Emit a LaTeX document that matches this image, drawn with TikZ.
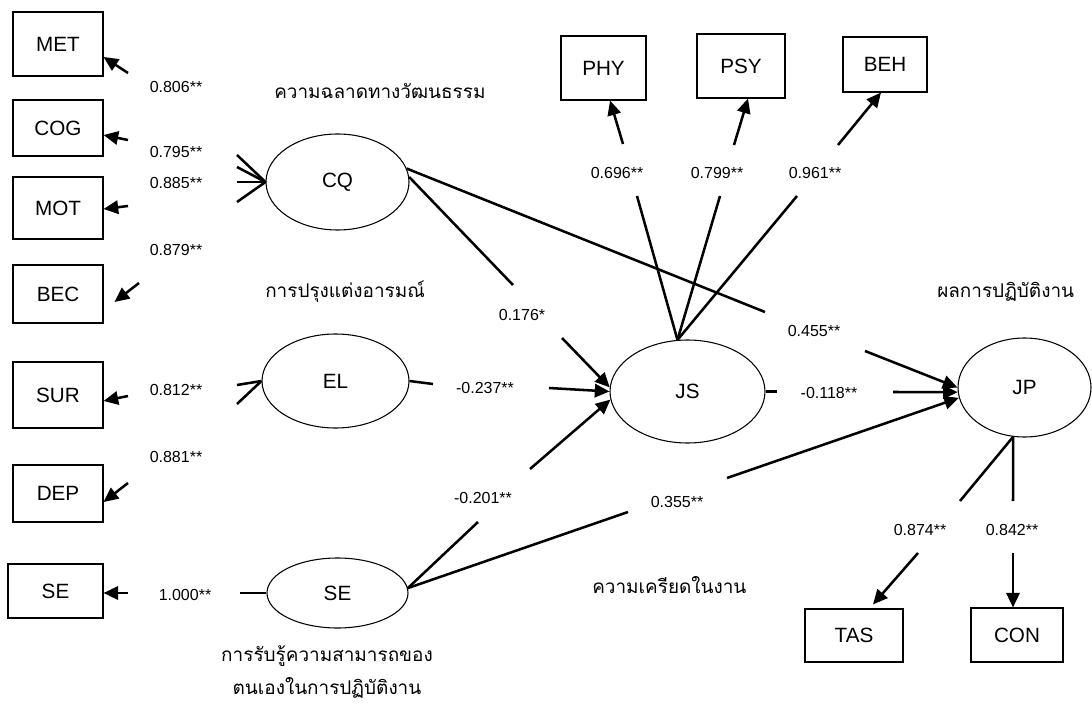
\documentclass[tikz,border=0pt]{standalone}
\usepackage{fontspec}
\setmainfont{Liberation Sans}
\newfontfamily\thaifont[Script=Thai]{Loma}
\usetikzlibrary{arrows.meta,shapes.geometric,calc}
\begin{document}
\begin{tikzpicture}[x=0.75pt,y=-0.75pt,
  ind/.style={draw,line width=0.8pt,inner sep=0pt,font=\fontsize{15.5}{18}\selectfont},
  lat/.style={draw,ellipse,line width=0.8pt,inner sep=0pt,font=\fontsize{15.5}{18}\selectfont},
  con/.style={line width=1.9pt},
  arr/.style={con,-{Triangle[length=11pt,width=10pt]}},
  coef/.style={font=\fontsize{12}{14}\selectfont,inner sep=0pt},
  thai/.style={font=\thaifont\fontsize{14.2}{25}\selectfont,inner sep=0pt,anchor=west}]
\useasboundingbox (0,0) rectangle (1092,706);

% indicator boxes
\node[ind,minimum width=67.5pt,minimum height=48pt] (MET) at (58,44) {MET};
\node[ind,minimum width=67.5pt,minimum height=42pt] (COG) at (58,128) {COG};
\node[ind,minimum width=67.5pt,minimum height=46.5pt] (MOT) at (58,208) {MOT};
\node[ind,minimum width=67.5pt,minimum height=43.5pt] (BEC) at (58,294) {BEC};
\node[ind,minimum width=67.5pt,minimum height=49.5pt] (SUR) at (58,395) {SUR};
\node[ind,minimum width=67.5pt,minimum height=42.75pt] (DEP) at (58,493.5) {DEP};
\node[ind,minimum width=71.25pt,minimum height=40.5pt] (SEi) at (55.5,591) {SE};
\node[ind,minimum width=63.75pt,minimum height=48pt] (PHY) at (603.5,68) {PHY};
\node[ind,minimum width=66pt,minimum height=48pt] (PSY) at (741,66) {PSY};
\node[ind,minimum width=63pt,minimum height=41.25pt] (BEH) at (885,64.5) {BEH};
\node[ind,minimum width=73.5pt,minimum height=39.75pt] (TAS) at (854,635.5) {TAS};
\node[ind,minimum width=69pt,minimum height=40.5pt] (CON) at (1017,635) {CON};

% latent ellipses
\node[lat,minimum width=107.25pt,minimum height=72pt] (CQ) at (337.5,182) {CQ};
\node[lat,minimum width=110.25pt,minimum height=70.5pt] (EL) at (335.5,381) {EL};
\node[lat,minimum width=105.75pt,minimum height=52.5pt] (SE) at (337.5,593) {SE};
\node[lat,minimum width=116.25pt,minimum height=77.25pt] (JS) at (687.5,391.5) {JS};
\node[lat,minimum width=99.75pt,minimum height=74.25pt] (JP) at (1024.5,387.5) {JP};

% Thai captions
\node[thai] (tCQ) at (274,91) {ความฉลาดทางวัฒนธรรม};
\node[thai] (tEL) at (265,292) {การปรุงแต่งอารมณ์};
\node[thai] (tJP) at (937,292) {ผลการปฏิบัติงาน};
\node[thai] (tJS) at (592,585) {ความเครียดในงาน};
\node[thai,anchor=center,align=center] (tSE) at (327,672) {การรับรู้ความสามารถของ\\ตนเองในการปฏิบัติงาน};

% free ends of the broken connectors
\coordinate (a1) at (237,155); \coordinate (b1) at (128,73);
\coordinate (a2) at (237,167); \coordinate (b2) at (128,140);
\coordinate (a3) at (237,182); \coordinate (b3) at (128,206);
\coordinate (a4) at (237,202); \coordinate (b4) at (139,283);
\coordinate (a5) at (237,385); \coordinate (b5) at (128,396);
\coordinate (a6) at (237,404); \coordinate (b6) at (128,483);
\coordinate (a7) at (240,593); \coordinate (b7) at (128,593);
\coordinate (a8) at (513,285); \coordinate (b8) at (562,338);
\coordinate (a9) at (433,384); \coordinate (b9) at (549,388);
\coordinate (a10) at (478,522); \coordinate (b10) at (530,469);
\coordinate (a11) at (765,312); \coordinate (b11) at (865,351);
\coordinate (a12) at (777,391.5); \coordinate (b12) at (893,392);
\coordinate (a13) at (628,512); \coordinate (b13) at (727,478);
\coordinate (a14) at (637,196); \coordinate (b14) at (623,144);
\coordinate (a15) at (720,196); \coordinate (b15) at (734,145);
\coordinate (a16) at (797,196); \coordinate (b16) at (838,145);
\coordinate (a17) at (960,501); \coordinate (b17) at (918,553);
\coordinate (a18) at (1013,501); \coordinate (b18) at (1013,553);

% measurement model CQ
\draw[con] (CQ.west) -- (a1); \draw[arr] (b1) -- ([yshift=-9.75pt]MET.east);
\draw[con] (CQ.west) -- (a2); \draw[arr] (b2) -- ([yshift=-5.25pt]COG.east);
\draw[con] (CQ.west) -- (a3); \draw[arr] (b3) -- ([yshift=-0.75pt]MOT.east);
\draw[con] (CQ.west) -- (a4); \draw[arr] (b4) -- ([xshift=8.25pt,yshift=-6pt]BEC.east);
% EL
\draw[con] (EL.west) -- (a5); \draw[arr] (b5) -- ([yshift=-4.5pt]SUR.east);
\draw[con] (EL.west) -- (a6); \draw[arr] (b6) -- ([yshift=-6.4pt]DEP.east);
% SE
\draw[con] (SE.west) -- (a7); \draw[arr] (b7) -- ([yshift=-1.5pt]SEi.east);
% structural paths
\draw[con] (CQ.4) -- (a8); \draw[arr] (b8) -- (JS.177);
\draw[con] (EL.east) -- (a9); \draw[arr] (b9) -- (JS.180);
\draw[con] (SE.4) -- (a10); \draw[arr] (b10) -- (JS.186);
\draw[con] (CQ.11) -- (a11); \draw[arr] (b11) -- (JP.180);
\draw[con] (JS.east) -- (a12); \draw[arr] (b12) -- (JP.184);
\draw[con] (SE.4) -- (a13); \draw[arr] (b13) -- (JP.189);
% JS indicators
\draw[con] (JS.101) -- (a14); \draw[arr] (b14) -- ([xshift=4.9pt]PHY.south);
\draw[con] (JS.101) -- (a15); \draw[arr] (b15) -- ([xshift=5.25pt]PSY.south);
\draw[con] (JS.101) -- (a16); \draw[arr] (b16) -- ([xshift=-3pt]BEH.south);
% JP indicators
\draw[con] (JP.257) -- (a17); \draw[arr] (b17) -- ([xshift=14.25pt,yshift=3pt]TAS.north);
\draw[con] (JP.257) -- (a18); \draw[arr] (b18) -- ([xshift=-3pt]CON.north);

% coefficients
\node[coef] (c1) at (176,87) {0.806**};
\node[coef] (c2) at (176,152) {0.795**};
\node[coef] (c3) at (176,183) {0.885**};
\node[coef] (c4) at (176,250) {0.879**};
\node[coef] (c5) at (176,390) {0.812**};
\node[coef] (c6) at (176,457) {0.881**};
\node[coef] (c7) at (185,595) {1.000**};
\node[coef] (c8) at (522,315) {0.176*};
\node[coef] (c9) at (485,388) {-0.237**};
\node[coef] (c10) at (483,498) {-0.201**};
\node[coef] (c11) at (814,331) {0.455**};
\node[coef] (c12) at (829,393) {-0.118**};
\node[coef] (c13) at (677,502) {0.355**};
\node[coef] (c14) at (617,173) {0.696**};
\node[coef] (c15) at (717,173) {0.799**};
\node[coef] (c16) at (815,173) {0.961**};
\node[coef] (c17) at (920,530) {0.874**};
\node[coef] (c18) at (1012,530) {0.842**};
\end{tikzpicture}
\end{document}
